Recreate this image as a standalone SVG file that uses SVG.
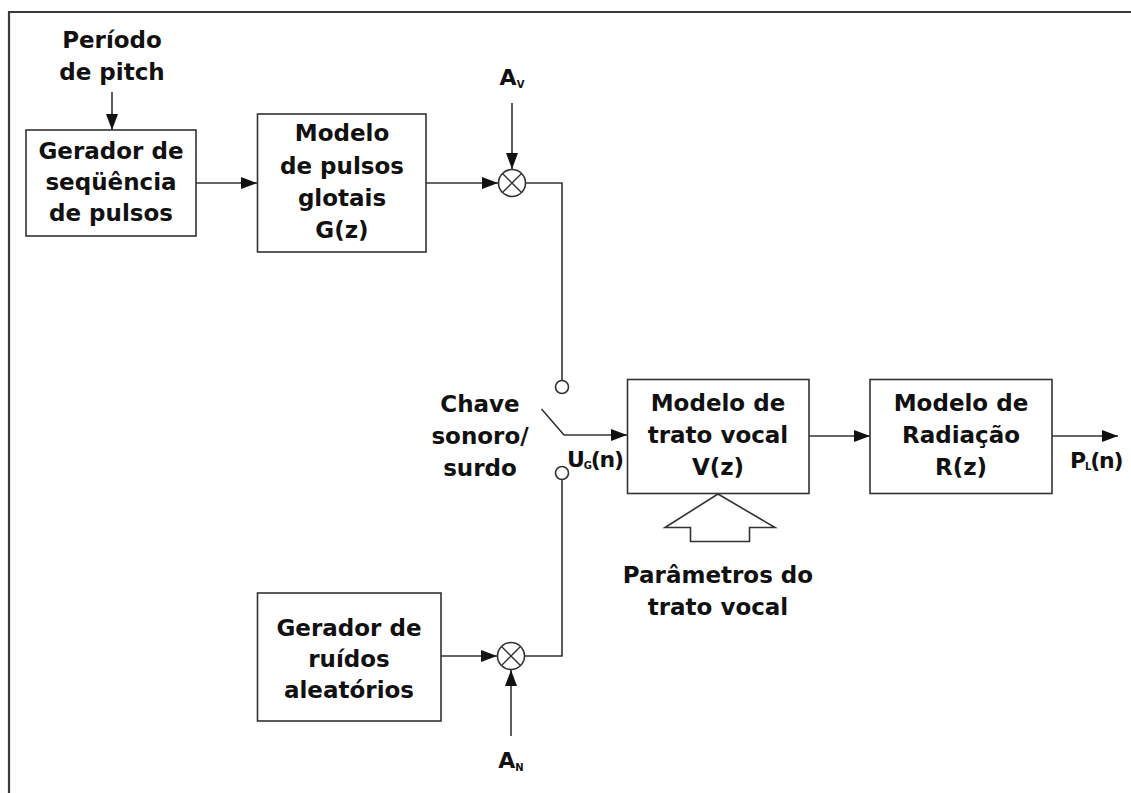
<svg xmlns="http://www.w3.org/2000/svg" width="1131" height="793" viewBox="0 0 1131 793">
  <style>
    .frame { fill: none; stroke: #3a3a3a; stroke-width: 2.2; }
    .box { fill: #ffffff; stroke: #333333; stroke-width: 1.6; }
    .wire { fill: none; stroke: #333333; stroke-width: 1.6; }
    .arrow { fill: none; stroke: #333333; stroke-width: 1.6; marker-end: url(#head); }
    .contact { fill: #ffffff; stroke: #333333; stroke-width: 1.6; }
    .lbl { font-family: "DejaVu Sans", "Liberation Sans", sans-serif; font-weight: bold; font-size: 23px; fill: #111111; text-anchor: middle; }
    .start { text-anchor: start; }
    .lbl.sym { font-size: 22px; }
    .lbl.sig { font-size: 22px; letter-spacing: -1.2px; }
    .lbl .sub { font-size: 10px; }
  </style>
  <defs>
    <marker id="head" markerUnits="userSpaceOnUse" markerWidth="18" markerHeight="14" refX="16" refY="6" orient="auto">
      <path d="M0,0 L16,6 L0,12 Z" fill="#111111"/>
    </marker>
    <g id="mult">
      <circle r="13.5" fill="#ffffff" stroke="#333333" stroke-width="1.6"/>
      <path d="M-9.5,-9.5 L9.5,9.5 M9.5,-9.5 L-9.5,9.5" stroke="#333333" stroke-width="1.4"/>
    </g>
  </defs>

  <rect width="1131" height="793" fill="#ffffff"/>
  <!-- outer frame: top and left edges -->
  <path class="frame" d="M9,793 L9,12 L1131,12"/>

  <!-- connectors -->
  <g id="connectors">
    <line class="arrow" x1="112" y1="92" x2="112" y2="130"/>
    <line class="arrow" x1="196" y1="183" x2="257" y2="183"/>
    <line class="arrow" x1="426" y1="183" x2="498" y2="183"/>
    <line class="arrow" x1="512" y1="103" x2="512" y2="169"/>
    <polyline class="wire" points="525.5,183 562,183 562,380.5"/>
    <polyline class="wire" points="562,479.5 562,656 524.5,656"/>
    <line class="arrow" x1="441" y1="656" x2="497" y2="656"/>
    <line class="arrow" x1="511" y1="736" x2="511" y2="670"/>
    <!-- voiced/unvoiced switch blade -->
    <polyline class="arrow" points="541.5,409 564,435 627,435"/>
    <line class="arrow" x1="809" y1="436" x2="870" y2="436"/>
    <line class="arrow" x1="1052" y1="436" x2="1118" y2="436"/>
    <!-- vocal tract parameter input -->
    <polygon class="box" points="718,494 665,527.5 690.5,527.5 690.5,541.5 749.5,541.5 749.5,527.5 775,527.5"/>
  </g>

  <g id="mult-voiced"><use href="#mult" x="512" y="183"/></g>
  <g id="mult-noise"><use href="#mult" x="511" y="656"/></g>

  <g id="switch">
    <circle class="contact" cx="562" cy="387" r="6.5"/>
    <circle class="contact" cx="562" cy="473" r="6.5"/>
    <text class="lbl" x="480" y="412">Chave</text>
    <text class="lbl" x="480" y="444">sonoro/</text>
    <text class="lbl" x="480" y="476">surdo</text>
  </g>

  <g id="pitch">
    <text class="lbl" x="112" y="48">Período</text>
    <text class="lbl" x="112" y="80">de pitch</text>
  </g>

  <g id="pulse-gen">
    <rect class="box" x="26" y="130" width="170" height="106"/>
    <text class="lbl" x="111" y="159">Gerador de</text>
    <text class="lbl" x="111" y="190">seqüência</text>
    <text class="lbl" x="111" y="221">de pulsos</text>
  </g>

  <g id="glottal">
    <rect class="box" x="257.5" y="114" width="168.5" height="138"/>
    <text class="lbl" x="342" y="141">Modelo</text>
    <text class="lbl" x="342" y="174">de pulsos</text>
    <text class="lbl" x="342" y="206">glotais</text>
    <text class="lbl" x="342" y="238">G(z)</text>
  </g>

  <g id="av">
    <text class="lbl sym" x="512" y="85">A<tspan class="sub" dy="3">V</tspan></text>
  </g>

  <g id="an">
    <text class="lbl sym" x="511" y="768">A<tspan class="sub" dy="3">N</tspan></text>
  </g>

  <g id="noise-gen">
    <rect class="box" x="257.5" y="593" width="183.5" height="128"/>
    <text class="lbl" x="349" y="636">Gerador de</text>
    <text class="lbl" x="349" y="667">ruídos</text>
    <text class="lbl" x="349" y="698">aleatórios</text>
  </g>

  <g id="ug">
    <text class="lbl sig start" x="567" y="467">U<tspan class="sub" dy="2">G</tspan><tspan dy="-2">(n)</tspan></text>
  </g>

  <g id="vocal-tract">
    <rect class="box" x="627.5" y="379.5" width="181.5" height="114"/>
    <text class="lbl" x="718" y="411">Modelo de</text>
    <text class="lbl" x="718" y="443">trato vocal</text>
    <text class="lbl" x="718" y="475">V(z)</text>
  </g>

  <g id="params">
    <text class="lbl" x="718" y="583">Parâmetros do</text>
    <text class="lbl" x="718" y="615">trato vocal</text>
  </g>

  <g id="radiation">
    <rect class="box" x="870" y="379.5" width="182" height="114"/>
    <text class="lbl" x="961" y="411">Modelo de</text>
    <text class="lbl" x="961" y="443">Radiação</text>
    <text class="lbl" x="961" y="475">R(z)</text>
  </g>

  <g id="pl">
    <text class="lbl sig start" x="1070" y="468">P<tspan class="sub" dy="2">L</tspan><tspan dy="-2">(n)</tspan></text>
  </g>
</svg>
